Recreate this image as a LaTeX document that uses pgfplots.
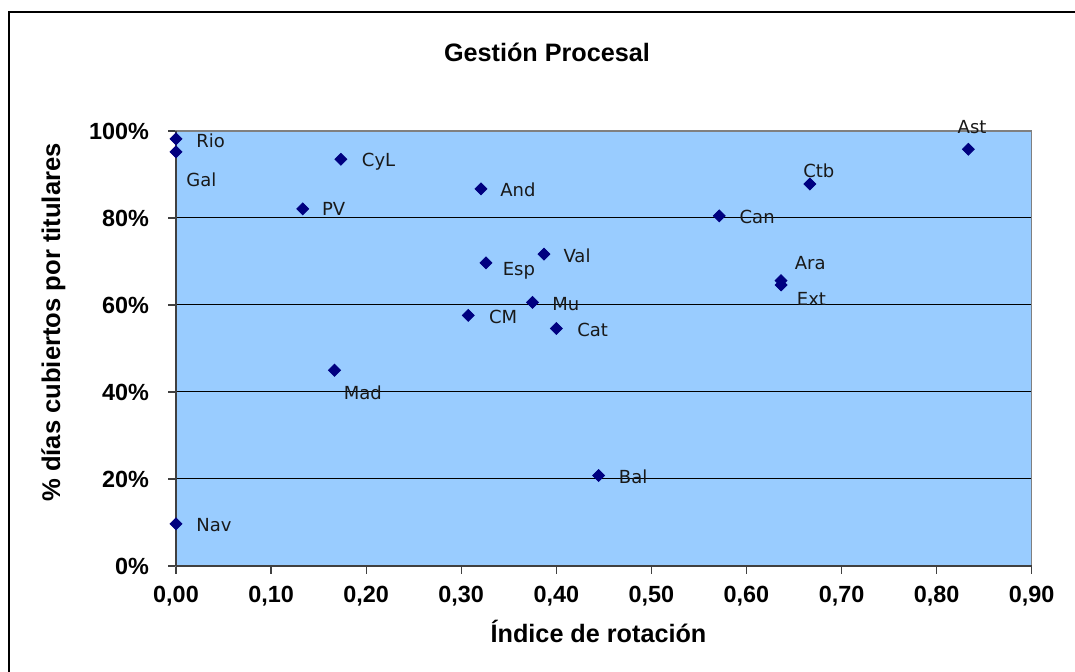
\documentclass[border=0pt]{standalone}
\usepackage{fontspec}
\setmainfont{Liberation Sans}
\newfontfamily\labfont{DejaVu Sans}
\usepackage{pgfplots}
\usepackage{pgfplotstable}
\pgfplotsset{compat=1.18}
\definecolor{plotbg}{HTML}{99CCFF}
\definecolor{mk}{HTML}{000080}
\definecolor{bordgray}{HTML}{808080}
\definecolor{axdark}{HTML}{404040}

\pgfplotstableread{
x      y     lab  dx    dy
0.0000 98.2  Rio  10    -4.2
0.0000 95.2  Gal  5     -17.2
0.1735 93.5  CyL  10.3  -3.7
0.1333 82.1  PV   9.5   -3.2
0.3207 86.7  And  9.5   -3.7
0.3870 71.7  Val  9.6   -4
0.3260 69.7  Esp  8.2   -6.4
0.3750 60.6  Mu   9.7   -4
0.3074 57.6  CM   10.2  -3.9
0.4000 54.6  Cat  10.3  -3.8
0.1667 45.0  Mad  4.5   -14.4
0.4444 20.8  Bal  10    -4
0.0000 9.7   Nav  10    -4
0.5714 80.5  Can  10    -3.8
0.6364 65.6  Ara  6.7   5.8
0.6364 64.6  Ext  7.7   -10.4
0.6667 87.8  Ctb  -3.5  3.4
0.8333 95.8  Ast  -5.5  7.8
}\pts

\begin{document}
\begin{tikzpicture}[x=0.5pt,y=-0.5pt]
\useasboundingbox (0,0) rectangle (1075,672);
\fill[white] (0,0) rectangle (1075,672);
\draw[black, line width=0.8pt] (9,672) -- (9,12) -- (1075,12);

\begin{axis}[
  at={(88pt,-283pt)}, anchor=south west,
  scale only axis,
  width=427.85pt, height=217.5pt,
  xmin=0, xmax=0.9, ymin=0, ymax=100,
  xtick={0,0.1,...,0.9},
  ytick={0,20,40,60,80,100},
  yticklabels={0\%,20\%,40\%,60\%,80\%,100\%},
  xticklabel style={yshift=-2.7pt, /pgf/number format/fixed, /pgf/number format/fixed zerofill, /pgf/number format/precision=2, /pgf/number format/use comma, /pgf/number format/assume math mode=true},
  tick label style={font=\fontsize{11.7}{13}\selectfont\bfseries, text=black},
  yticklabel style={xshift=-6pt},
  tick align=outside,
  xtick pos=bottom, ytick pos=left,
  major tick length=4pt,
  tick style={axdark, line width=0.6pt},
  ymajorgrids,
  grid style={black, line width=0.5pt},
  axis line style={bordgray, line width=0.7pt},
  axis background/.style={fill=plotbg},
  clip=false,
]
\addplot[
  only marks, mark=square*, mark size=2.1pt,
  mark options={rotate=45, fill=mk, draw=mk},
  point meta=explicit symbolic,
  nodes near coords,
  visualization depends on={\thisrow{dx} \as \dx},
  visualization depends on={\thisrow{dy} \as \dy},
  every node near coord/.append style={anchor=base west, inner sep=0pt,
     xshift=\dx pt, yshift=\dy pt, font=\labfont\fontsize{9}{10}\selectfont, text=black!90},
] table[x=x, y=y, meta=lab] {\pts};
\draw[axdark, line width=0.9pt] (rel axis cs:0,0) -- (rel axis cs:0,1);
\draw[axdark, line width=0.7pt] (rel axis cs:0,0) -- (rel axis cs:1,0);
\end{axis}

\node[anchor=base, inner sep=0pt, font=\fontsize{12.6}{14}\selectfont\bfseries] at (547,62) {Gestión Procesal};
\node[anchor=base, inner sep=0pt, font=\fontsize{12.6}{14}\selectfont\bfseries] at (598.5,642) {Índice de rotación};
\node[anchor=base, inner sep=0pt, rotate=90, font=\fontsize{12.8}{14}\selectfont\bfseries] at (60,322.5) {\% días cubiertos por titulares};
\end{tikzpicture}
\end{document}
